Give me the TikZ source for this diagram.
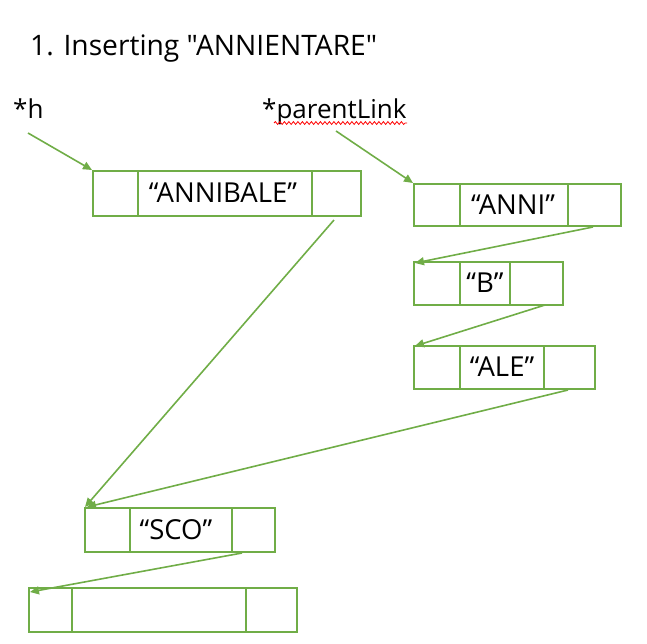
\documentclass[tikz,border=0pt]{standalone}
\usepackage{fontspec}
\setmainfont{Open Sans}
\newfontfamily\plainfont{Open Sans}
\usetikzlibrary{arrows.meta,decorations.pathmorphing}
\definecolor{lgreen}{HTML}{70AD47}
\tikzset{
  x=1pt, y=-1pt,
  cellbox/.style={draw=lgreen, line width=2pt, inner sep=0pt, anchor=north west},
  divider/.style={draw=lgreen, line width=2pt},
  link/.style={draw=lgreen, line width=1.6pt, -{Triangle[length=9pt,width=8pt]}},
  boxtext/.style={font=\fontsize{27.5}{32}\selectfont, inner sep=0pt},
  lbl/.style={font=\fontsize{26}{30}\selectfont, inner sep=0pt, anchor=base west},
  titletext/.style={font=\plainfont\fontsize{28.2}{34}\selectfont, inner sep=0pt, anchor=base west},
  spellmark/.style={red, line width=0.8pt, decorate, decoration={snake, amplitude=1.4pt, segment length=4.5pt}},
}
\begin{document}
\begin{tikzpicture}
\useasboundingbox (0,0) rectangle (647,643);
% title and labels
\node[titletext] (title) at (30,55) {1. Inserting "ANNIENTARE"};
\node[lbl] (h) at (13,118) {*h};
\node[lbl] (pl) at (262,118) {*parentLink};
\draw[spellmark] (274,123) -- (407,123);
% ANNIBALE
\node[cellbox, minimum width=268pt, minimum height=45pt] (b1) at (92,170) {};
\draw[divider] (138,170) -- (138,215) (312,170) -- (312,215);
\node[boxtext] (t1) at (223,193) {“ANNIBALE”};
% ANNI
\node[cellbox, minimum width=207pt, minimum height=42pt] (b2) at (413,183) {};
\draw[divider] (460,183) -- (460,225) (568,183) -- (568,225);
\node[boxtext] (t2) at (513,205) {“ANNI”};
% B
\node[cellbox, minimum width=149pt, minimum height=43pt] (b3) at (413,261) {};
\draw[divider] (460,261) -- (460,304) (510,261) -- (510,304);
\node[boxtext] (t3) at (485,283) {“B”};
% ALE
\node[cellbox, minimum width=181pt, minimum height=43pt] (b4) at (413,345) {};
\draw[divider] (460,345) -- (460,388) (544,345) -- (544,388);
\node[boxtext] (t4) at (502,367) {“ALE”};
% SCO
\node[cellbox, minimum width=190pt, minimum height=44pt] (b5) at (84,507) {};
\draw[divider] (130,507) -- (130,551) (232,507) -- (232,551);
\node[boxtext] (t5) at (176,530) {“SCO”};
% empty
\node[cellbox, minimum width=268pt, minimum height=44pt] (b6) at (28,587) {};
\draw[divider] (72,587) -- (72,631) (246,587) -- (246,631);
% arrow start points
\coordinate (sh) at (28,133);
\coordinate (spl) at (336,131);
\coordinate (s1) at (334,220);
\coordinate (s2) at (593,227);
\coordinate (s3) at (545,305);
\coordinate (s4) at (568,390);
\coordinate (s5) at (242,553);
% arrows
\draw[link] (sh) -- (b1.north west);
\draw[link] (spl) -- (b2.north west);
\draw[link] (s1) -- ([xshift=1pt]b5.north west);
\draw[link] (s2) -- ([xshift=2pt,yshift=-2pt]b3.north west);
\draw[link] (s3) -- ([xshift=2pt,yshift=-1pt]b4.north west);
\draw[link] (s4) -- ([xshift=3pt]b5.north west);
\draw[link] (s5) -- ([xshift=2pt,yshift=-5pt]b6.north west);
\end{tikzpicture}
\end{document}
